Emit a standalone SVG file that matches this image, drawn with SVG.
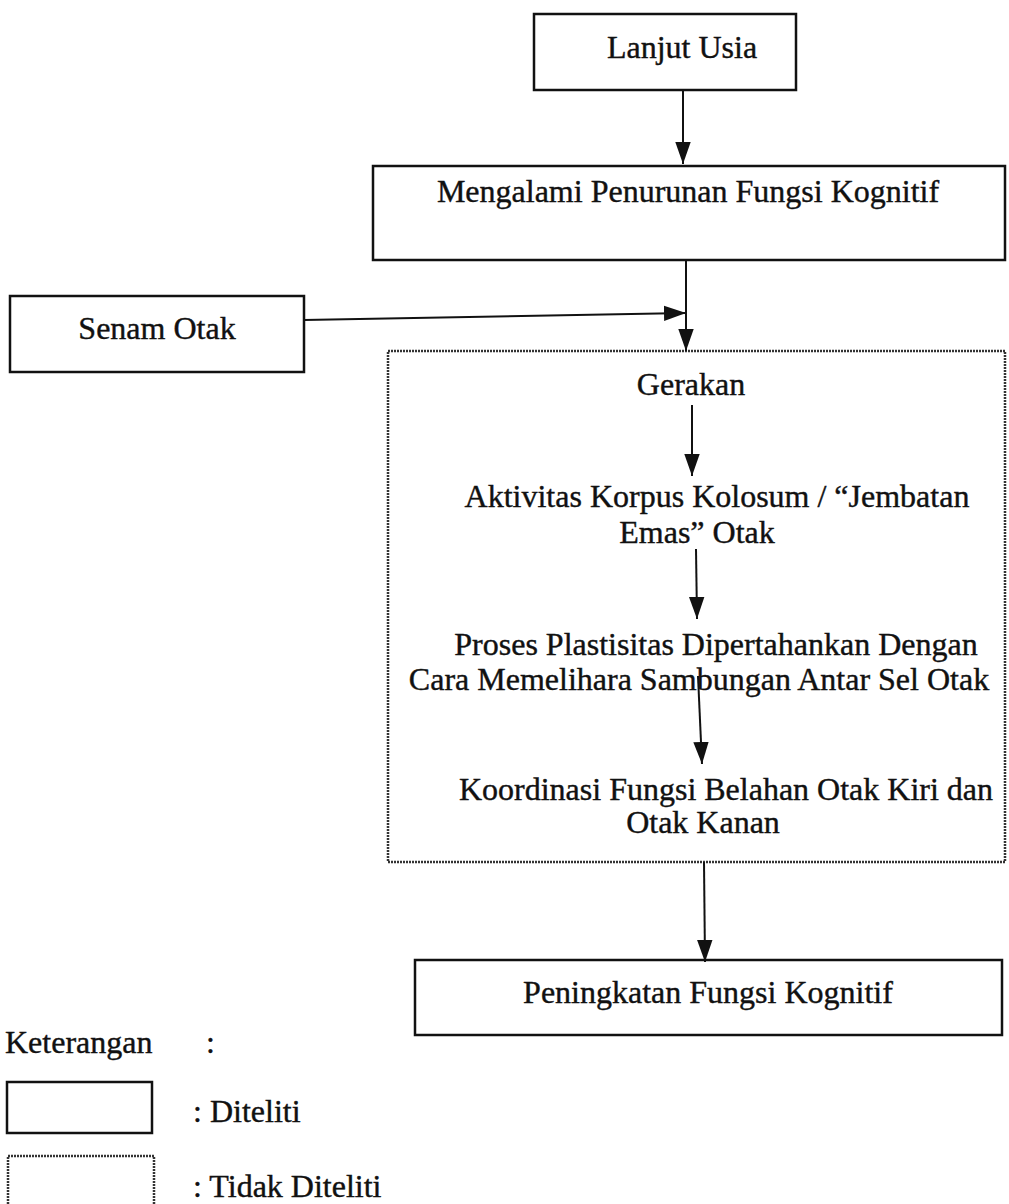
<svg xmlns="http://www.w3.org/2000/svg" width="1009" height="1204" viewBox="0 0 1009 1204">
<style>
text{font-family:"Liberation Serif","Times New Roman",serif;font-size:32px;fill:#111;stroke:#111;stroke-width:0.4}
.c{text-anchor:middle}
.box{fill:none;stroke:#111;stroke-width:2.5}
.dbox{fill:none;stroke:#333;stroke-width:2.5;stroke-dasharray:2 1}
.ln{fill:none;stroke:#111;stroke-width:2}
</style>
<defs>
<marker id="ahb" viewBox="0 0 10 10" refX="10" refY="5" markerWidth="22" markerHeight="22" markerUnits="userSpaceOnUse" orient="auto">
<path d="M0,1.5 L10,5 L0,8.5 Z" fill="#111"/>
</marker>
</defs>
<g id="n-lanjut"><rect class="box" x="534" y="14" width="262" height="76"/><text class="c" x="682" y="58">Lanjut Usia</text></g>
<g id="n-mengalami"><rect class="box" x="373" y="166" width="632" height="94"/><text class="c" x="688" y="202">Mengalami Penurunan Fungsi Kognitif</text></g>
<g id="n-senam"><rect class="box" x="10" y="296" width="294" height="76"/><text class="c" x="157" y="339">Senam Otak</text></g>
<g id="n-proses">
<rect class="dbox" x="388" y="351" width="617" height="511"/>
<text class="c" x="691" y="395">Gerakan</text>
<text class="c" x="717" y="507">Aktivitas Korpus Kolosum / “Jembatan</text>
<text class="c" x="697" y="543">Emas” Otak</text>
<text class="c" x="716" y="655">Proses Plastisitas Dipertahankan Dengan</text>
<text class="c" x="699" y="690">Cara Memelihara Sambungan Antar Sel Otak</text>
<text class="c" x="726" y="800">Koordinasi Fungsi Belahan Otak Kiri dan</text>
<text class="c" x="703" y="833">Otak Kanan</text>
</g>
<g id="n-peningkatan"><rect class="box" x="415" y="960" width="587" height="75"/><text class="c" x="708" y="1003">Peningkatan Fungsi Kognitif</text></g>
<g id="legend">
<text x="5" y="1053">Keterangan</text>
<text x="206" y="1053">:</text>
<rect class="box" x="7" y="1082" width="145" height="51"/>
<text x="193" y="1122">: Diteliti</text>
<rect class="dbox" x="8" y="1156" width="146" height="52"/>
<text x="193" y="1197">: Tidak Diteliti</text>
</g>
<g id="connectors">
<line class="ln" x1="683" y1="90" x2="683" y2="164" marker-end="url(#ahb)"/>
<line class="ln" x1="686" y1="260" x2="686" y2="351" marker-end="url(#ahb)"/>
<line class="ln" x1="304" y1="320" x2="686" y2="313" marker-end="url(#ahb)"/>
<line class="ln" x1="692" y1="405" x2="692" y2="476" marker-end="url(#ahb)"/>
<line class="ln" x1="696" y1="549" x2="697" y2="619" marker-end="url(#ahb)"/>
<line class="ln" x1="698" y1="676" x2="702" y2="764" marker-end="url(#ahb)"/>
<line class="ln" x1="704" y1="862" x2="705" y2="962" marker-end="url(#ahb)"/>
</g>
</svg>
